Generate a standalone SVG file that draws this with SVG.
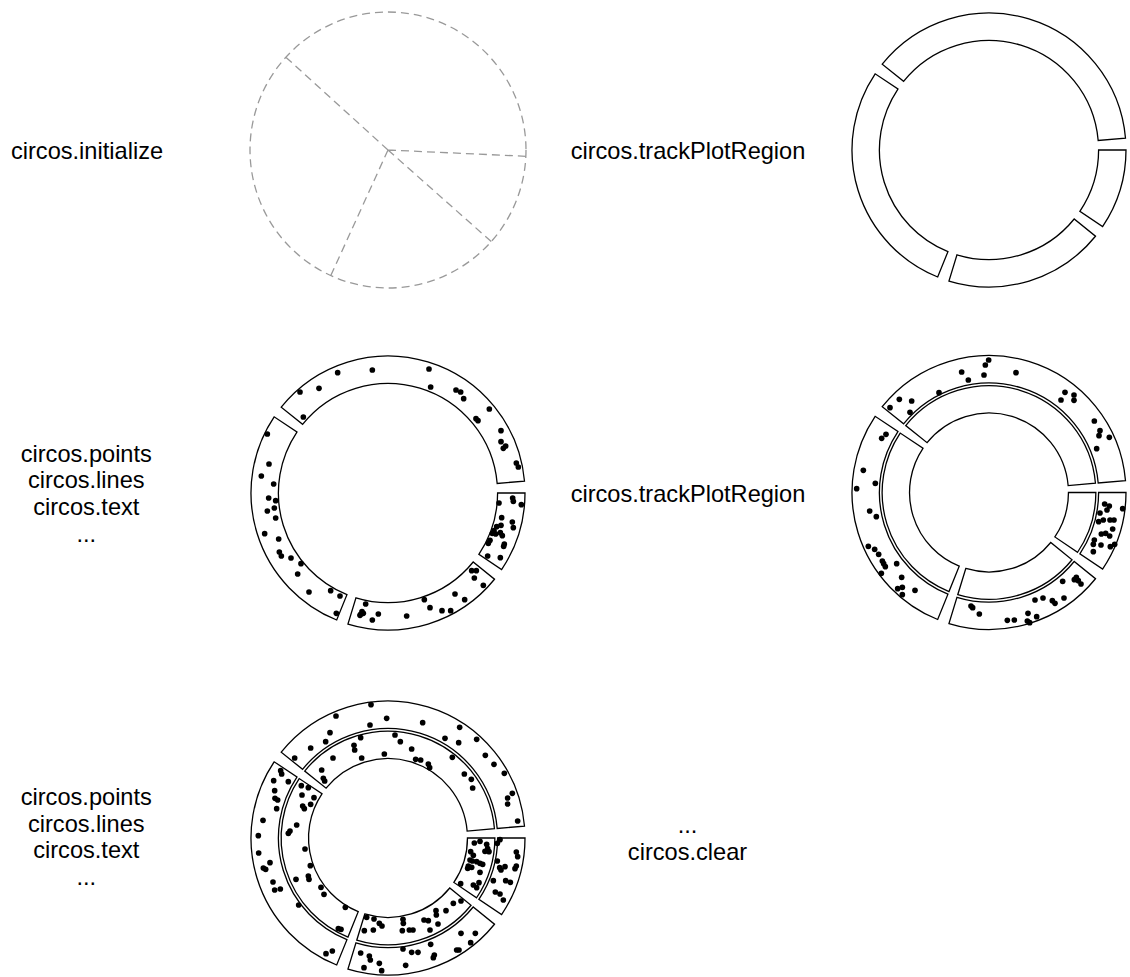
<svg xmlns="http://www.w3.org/2000/svg" xmlns:xlink="http://www.w3.org/1999/xlink" width="1130" height="977" viewBox="0 0 1130 977">
<style>
text{font-family:"Liberation Sans",Arial,sans-serif;font-size:23.6px;fill:#000;text-anchor:middle}
.ring{fill:#fff;stroke:#000;stroke-width:1.3}
.dash{fill:none;stroke:#999;stroke-width:1.3;stroke-dasharray:8 5}
.dots circle{fill:#000}
</style>
<defs>
<g id="track1">
<path class="ring" d="M137,0 A137,137 0 0 1 113.58,76.61 L90.86,61.29 A109.6,109.6 0 0 0 109.6,0 Z"/>
<path class="ring" d="M106.47,86.22 A137,137 0 0 1 -40.05,131.01 L-32.04,104.81 A109.6,109.6 0 0 0 85.18,68.97 Z"/>
<path class="ring" d="M-51.32,127.02 A137,137 0 0 1 -113.85,-76.21 L-91.08,-60.97 A109.6,109.6 0 0 0 -41.06,101.62 Z"/>
<path class="ring" d="M-106.77,-85.84 A137,137 0 0 1 136.48,-11.94 L109.18,-9.55 A109.6,109.6 0 0 0 -85.42,-68.67 Z"/>
</g>
<g id="track2">
<path class="ring" d="M106.86,0 A106.86,106.86 0 0 1 88.59,59.76 L65.88,44.43 A79.46,79.46 0 0 0 79.46,0 Z"/>
<path class="ring" d="M83.05,67.25 A106.86,106.86 0 0 1 -31.24,102.19 L-23.23,75.99 A79.46,79.46 0 0 0 61.75,50.01 Z"/>
<path class="ring" d="M-40.03,99.08 A106.86,106.86 0 0 1 -88.80,-59.45 L-66.03,-44.20 A79.46,79.46 0 0 0 -29.77,73.67 Z"/>
<path class="ring" d="M-83.28,-66.96 A106.86,106.86 0 0 1 106.45,-9.31 L79.16,-6.93 A79.46,79.46 0 0 0 -61.93,-49.79 Z"/>
</g>
</defs>

<g id="label-initialize"><text x="87" y="158.5">circos.initialize</text></g>
<g id="panel-initialize">
<circle class="dash" cx="388" cy="150" r="138"/>
<path class="dash" d="M388,150 L286.1,57.4 M388,150 L525.9,156.3 M388,150 L491.5,241.8 M388,150 L330.6,276"/>
</g>

<g id="label-track1"><text x="688" y="158.5">circos.trackPlotRegion</text></g>
<g id="panel-track1"><use xlink:href="#track1" x="989" y="150"/></g>

<g id="label-points1">
<text x="86.3" y="461.7">circos.points</text>
<text x="86.3" y="488.3">circos.lines</text>
<text x="86.3" y="515">circos.text</text>
<text x="86.3" y="541.7">...</text>
</g>
<g id="panel-points1">
<use xlink:href="#track1" x="388" y="493"/>
<g class="dots" transform="translate(240,340) scale(0.33333)">
<circle cx="293" cy="98" r="8.5"/><circle cx="397" cy="90" r="8.5"/><circle cx="567" cy="87" r="8.5"/><circle cx="180" cy="156" r="8.5"/><circle cx="237" cy="145" r="8.5"/><circle cx="572" cy="141" r="8.5"/><circle cx="648" cy="150" r="8.5"/><circle cx="662" cy="156" r="8.5"/><circle cx="671" cy="176" r="8.5"/><circle cx="748" cy="207" r="8.5"/><circle cx="190" cy="231" r="8.5"/><circle cx="708" cy="236" r="8.5"/><circle cx="714" cy="242" r="8.5"/><circle cx="783" cy="272" r="8.5"/><circle cx="783" cy="305" r="8.5"/><circle cx="790" cy="325" r="8.5"/><circle cx="797" cy="318" r="8.5"/><circle cx="829" cy="369" r="8.5"/><circle cx="835" cy="381" r="8.5"/>
<circle cx="82" cy="282" r="8.5"/><circle cx="87" cy="372" r="8.5"/><circle cx="64" cy="408" r="8.5"/><circle cx="101" cy="432" r="8.5"/><circle cx="86" cy="474" r="8.5"/><circle cx="107" cy="482" r="8.5"/><circle cx="82" cy="513" r="8.5"/><circle cx="103" cy="504" r="8.5"/><circle cx="107" cy="534" r="8.5"/><circle cx="74" cy="581" r="8.5"/><circle cx="116" cy="597" r="8.5"/><circle cx="118" cy="636" r="8.5"/><circle cx="124" cy="648" r="8.5"/><circle cx="153" cy="654" r="8.5"/><circle cx="183" cy="671" r="8.5"/><circle cx="173" cy="702" r="8.5"/><circle cx="207" cy="756" r="8.5"/><circle cx="272" cy="752" r="8.5"/><circle cx="300" cy="768" r="8.5"/><circle cx="289" cy="820" r="8.5"/>
<circle cx="377" cy="792" r="8.5"/><circle cx="366" cy="815" r="8.5"/><circle cx="360" cy="826" r="8.5"/><circle cx="370" cy="820" r="8.5"/><circle cx="362" cy="823" r="8.5"/><circle cx="397" cy="840" r="8.5"/><circle cx="415" cy="822" r="8.5"/><circle cx="500" cy="828" r="8.5"/><circle cx="553" cy="779" r="8.5"/><circle cx="570" cy="803" r="8.5"/><circle cx="606" cy="812" r="8.5"/><circle cx="632" cy="812" r="8.5"/><circle cx="645" cy="762" r="8.5"/><circle cx="674" cy="779" r="8.5"/><circle cx="695" cy="692" r="8.5"/><circle cx="709" cy="692" r="8.5"/><circle cx="703" cy="714" r="8.5"/><circle cx="730" cy="736" r="8.5"/>
<circle cx="777" cy="489" r="8.5"/><circle cx="818" cy="474" r="8.5"/><circle cx="820" cy="484" r="8.5"/><circle cx="844" cy="494" r="8.5"/><circle cx="785" cy="533" r="8.5"/><circle cx="817" cy="546" r="8.5"/><circle cx="820" cy="563" r="8.5"/><circle cx="783" cy="556" r="8.5"/><circle cx="770" cy="560" r="8.5"/><circle cx="762" cy="572" r="8.5"/><circle cx="757" cy="580" r="8.5"/><circle cx="767" cy="582" r="8.5"/><circle cx="781" cy="578" r="8.5"/><circle cx="787" cy="587" r="8.5"/><circle cx="750" cy="601" r="8.5"/><circle cx="745" cy="610" r="8.5"/><circle cx="793" cy="612" r="8.5"/><circle cx="791" cy="619" r="8.5"/><circle cx="743" cy="648" r="8.5"/><circle cx="781" cy="653" r="8.5"/>
</g>
</g>

<g id="label-track2"><text x="688" y="501.7">circos.trackPlotRegion</text></g>
<g id="panel-track2">
<use xlink:href="#track1" x="989" y="492.5"/>
<use xlink:href="#track2" x="989" y="492.5"/>
<g class="dots" transform="translate(800,340) scale(0.33333)">
<circle cx="566" cy="60" r="8.5"/><circle cx="556" cy="75" r="8.5"/><circle cx="485" cy="96" r="8.5"/><circle cx="552" cy="105" r="8.5"/><circle cx="505" cy="120" r="8.5"/><circle cx="648" cy="98" r="8.5"/><circle cx="417" cy="158" r="8.5"/><circle cx="298" cy="178" r="8.5"/><circle cx="335" cy="183" r="8.5"/><circle cx="270" cy="203" r="8.5"/><circle cx="330" cy="217" r="8.5"/><circle cx="795" cy="157" r="8.5"/><circle cx="822" cy="165" r="8.5"/><circle cx="783" cy="180" r="8.5"/><circle cx="822" cy="181" r="8.5"/><circle cx="883" cy="243" r="8.5"/><circle cx="900" cy="272" r="8.5"/><circle cx="897" cy="287" r="8.5"/><circle cx="928" cy="292" r="8.5"/><circle cx="890" cy="326" r="8.5"/>
<circle cx="258" cy="283" r="8.5"/><circle cx="245" cy="295" r="8.5"/><circle cx="190" cy="391" r="8.5"/><circle cx="170" cy="446" r="8.5"/><circle cx="226" cy="430" r="8.5"/><circle cx="209" cy="513" r="8.5"/><circle cx="229" cy="530" r="8.5"/><circle cx="205" cy="619" r="8.5"/><circle cx="224" cy="628" r="8.5"/><circle cx="236" cy="643" r="8.5"/><circle cx="247" cy="663" r="8.5"/><circle cx="251" cy="671" r="8.5"/><circle cx="256" cy="680" r="8.5"/><circle cx="290" cy="671" r="8.5"/><circle cx="244" cy="700" r="8.5"/><circle cx="305" cy="712" r="8.5"/><circle cx="293" cy="746" r="8.5"/><circle cx="307" cy="742" r="8.5"/><circle cx="345" cy="751" r="8.5"/><circle cx="307" cy="764" r="8.5"/>
<circle cx="513" cy="798" r="8.5"/><circle cx="518" cy="803" r="8.5"/><circle cx="538" cy="822" r="8.5"/><circle cx="622" cy="841" r="8.5"/><circle cx="643" cy="840" r="8.5"/><circle cx="684" cy="820" r="8.5"/><circle cx="682" cy="843" r="8.5"/><circle cx="689" cy="848" r="8.5"/><circle cx="710" cy="830" r="8.5"/><circle cx="729" cy="774" r="8.5"/><circle cx="705" cy="780" r="8.5"/><circle cx="757" cy="782" r="8.5"/><circle cx="765" cy="790" r="8.5"/><circle cx="792" cy="774" r="8.5"/><circle cx="788" cy="724" r="8.5"/><circle cx="823" cy="719" r="8.5"/><circle cx="829" cy="712" r="8.5"/><circle cx="843" cy="732" r="8.5"/><circle cx="835" cy="722" r="8.5"/>
<circle cx="914" cy="492" r="8.5"/><circle cx="928" cy="498" r="8.5"/><circle cx="921" cy="510" r="8.5"/><circle cx="968" cy="506" r="8.5"/><circle cx="900" cy="519" r="8.5"/><circle cx="930" cy="540" r="8.5"/><circle cx="942" cy="540" r="8.5"/><circle cx="896" cy="545" r="8.5"/><circle cx="938" cy="567" r="8.5"/><circle cx="917" cy="580" r="8.5"/><circle cx="904" cy="582" r="8.5"/><circle cx="929" cy="588" r="8.5"/><circle cx="944" cy="613" r="8.5"/><circle cx="931" cy="620" r="8.5"/><circle cx="903" cy="615" r="8.5"/><circle cx="883" cy="600" r="8.5"/><circle cx="880" cy="613" r="8.5"/><circle cx="880" cy="635" r="8.5"/><circle cx="910" cy="540" r="8.5"/>
</g>
</g>

<g id="label-points2">
<text x="86.3" y="805">circos.points</text>
<text x="86.3" y="831.7">circos.lines</text>
<text x="86.3" y="858.3">circos.text</text>
<text x="86.3" y="885">...</text>
</g>
<g id="panel-points2">
<use xlink:href="#track1" x="388" y="838"/>
<use xlink:href="#track2" x="388" y="838"/>
<g class="dots" transform="translate(240,670) scale(0.33333)">
<circle cx="393" cy="104" r="8.5"/><circle cx="288" cy="138" r="8.5"/><circle cx="440" cy="145" r="8.5"/><circle cx="390" cy="165" r="8.5"/><circle cx="548" cy="158" r="8.5"/><circle cx="659" cy="172" r="8.5"/><circle cx="270" cy="188" r="8.5"/><circle cx="212" cy="234" r="8.5"/><circle cx="257" cy="215" r="8.5"/><circle cx="164" cy="264" r="8.5"/><circle cx="615" cy="205" r="8.5"/><circle cx="656" cy="218" r="8.5"/><circle cx="710" cy="208" r="8.5"/><circle cx="736" cy="256" r="8.5"/><circle cx="762" cy="283" r="8.5"/><circle cx="793" cy="310" r="8.5"/><circle cx="817" cy="370" r="8.5"/><circle cx="803" cy="384" r="8.5"/><circle cx="803" cy="402" r="8.5"/><circle cx="833" cy="453" r="8.5"/>
<circle cx="362" cy="203" r="8.5"/><circle cx="342" cy="226" r="8.5"/><circle cx="344" cy="240" r="8.5"/><circle cx="465" cy="195" r="8.5"/><circle cx="481" cy="215" r="8.5"/><circle cx="515" cy="237" r="8.5"/><circle cx="433" cy="252" r="8.5"/><circle cx="365" cy="264" r="8.5"/><circle cx="279" cy="264" r="8.5"/><circle cx="245" cy="300" r="8.5"/><circle cx="250" cy="325" r="8.5"/><circle cx="254" cy="333" r="8.5"/><circle cx="527" cy="268" r="8.5"/><circle cx="542" cy="270" r="8.5"/><circle cx="565" cy="282" r="8.5"/><circle cx="569" cy="293" r="8.5"/><circle cx="637" cy="262" r="8.5"/><circle cx="673" cy="312" r="8.5"/><circle cx="694" cy="328" r="8.5"/><circle cx="698" cy="354" r="8.5"/>
<circle cx="122" cy="302" r="8.5"/><circle cx="125" cy="312" r="8.5"/><circle cx="101" cy="332" r="8.5"/><circle cx="104" cy="362" r="8.5"/><circle cx="105" cy="385" r="8.5"/><circle cx="113" cy="390" r="8.5"/><circle cx="110" cy="416" r="8.5"/><circle cx="69" cy="451" r="8.5"/><circle cx="55" cy="497" r="8.5"/><circle cx="56" cy="549" r="8.5"/><circle cx="90" cy="578" r="8.5"/><circle cx="70" cy="594" r="8.5"/><circle cx="77" cy="598" r="8.5"/><circle cx="99" cy="636" r="8.5"/><circle cx="104" cy="660" r="8.5"/><circle cx="121" cy="657" r="8.5"/><circle cx="176" cy="705" r="8.5"/><circle cx="258" cy="851" r="8.5"/><circle cx="277" cy="843" r="8.5"/>
<circle cx="145" cy="335" r="8.5"/><circle cx="184" cy="347" r="8.5"/><circle cx="205" cy="353" r="8.5"/><circle cx="222" cy="383" r="8.5"/><circle cx="186" cy="375" r="8.5"/><circle cx="188" cy="408" r="8.5"/><circle cx="193" cy="416" r="8.5"/><circle cx="212" cy="403" r="8.5"/><circle cx="170" cy="465" r="8.5"/><circle cx="150" cy="483" r="8.5"/><circle cx="145" cy="490" r="8.5"/><circle cx="195" cy="537" r="8.5"/><circle cx="211" cy="587" r="8.5"/><circle cx="168" cy="628" r="8.5"/><circle cx="205" cy="618" r="8.5"/><circle cx="207" cy="628" r="8.5"/><circle cx="243" cy="652" r="8.5"/><circle cx="252" cy="673" r="8.5"/><circle cx="316" cy="712" r="8.5"/><circle cx="295" cy="776" r="8.5"/><circle cx="303" cy="778" r="8.5"/>
<circle cx="362" cy="849" r="8.5"/><circle cx="388" cy="858" r="8.5"/><circle cx="391" cy="870" r="8.5"/><circle cx="372" cy="893" r="8.5"/><circle cx="418" cy="880" r="8.5"/><circle cx="425" cy="902" r="8.5"/><circle cx="497" cy="886" r="8.5"/><circle cx="489" cy="837" r="8.5"/><circle cx="515" cy="847" r="8.5"/><circle cx="534" cy="847" r="8.5"/><circle cx="572" cy="823" r="8.5"/><circle cx="583" cy="855" r="8.5"/><circle cx="580" cy="863" r="8.5"/><circle cx="650" cy="840" r="8.5"/><circle cx="657" cy="840" r="8.5"/><circle cx="663" cy="790" r="8.5"/><circle cx="706" cy="790" r="8.5"/><circle cx="692" cy="818" r="8.5"/>
<circle cx="380" cy="742" r="8.5"/><circle cx="402" cy="747" r="8.5"/><circle cx="418" cy="760" r="8.5"/><circle cx="426" cy="768" r="8.5"/><circle cx="489" cy="748" r="8.5"/><circle cx="490" cy="760" r="8.5"/><circle cx="487" cy="782" r="8.5"/><circle cx="508" cy="780" r="8.5"/><circle cx="519" cy="780" r="8.5"/><circle cx="373" cy="782" r="8.5"/><circle cx="400" cy="780" r="8.5"/><circle cx="552" cy="750" r="8.5"/><circle cx="565" cy="752" r="8.5"/><circle cx="570" cy="780" r="8.5"/><circle cx="588" cy="722" r="8.5"/><circle cx="589" cy="735" r="8.5"/><circle cx="594" cy="762" r="8.5"/><circle cx="618" cy="722" r="8.5"/><circle cx="640" cy="700" r="8.5"/><circle cx="663" cy="693" r="8.5"/>
<circle cx="780" cy="509" r="8.5"/><circle cx="772" cy="520" r="8.5"/><circle cx="829" cy="546" r="8.5"/><circle cx="833" cy="560" r="8.5"/><circle cx="829" cy="588" r="8.5"/><circle cx="825" cy="596" r="8.5"/><circle cx="772" cy="573" r="8.5"/><circle cx="779" cy="593" r="8.5"/><circle cx="783" cy="600" r="8.5"/><circle cx="795" cy="590" r="8.5"/><circle cx="760" cy="632" r="8.5"/><circle cx="797" cy="632" r="8.5"/><circle cx="811" cy="637" r="8.5"/><circle cx="766" cy="666" r="8.5"/><circle cx="780" cy="672" r="8.5"/><circle cx="790" cy="690" r="8.5"/>
<circle cx="703" cy="519" r="8.5"/><circle cx="720" cy="514" r="8.5"/><circle cx="740" cy="523" r="8.5"/><circle cx="735" cy="544" r="8.5"/><circle cx="747" cy="545" r="8.5"/><circle cx="743" cy="536" r="8.5"/><circle cx="692" cy="545" r="8.5"/><circle cx="700" cy="556" r="8.5"/><circle cx="690" cy="570" r="8.5"/><circle cx="697" cy="573" r="8.5"/><circle cx="710" cy="575" r="8.5"/><circle cx="720" cy="580" r="8.5"/><circle cx="728" cy="583" r="8.5"/><circle cx="685" cy="588" r="8.5"/><circle cx="683" cy="595" r="8.5"/><circle cx="695" cy="592" r="8.5"/><circle cx="720" cy="607" r="8.5"/><circle cx="717" cy="638" r="8.5"/><circle cx="700" cy="645" r="8.5"/><circle cx="710" cy="653" r="8.5"/><circle cx="662" cy="641" r="8.5"/>
</g>
</g>

<g id="label-clear">
<text x="687.5" y="833.3">...</text>
<text x="687.5" y="860">circos.clear</text>
</g>
</svg>
